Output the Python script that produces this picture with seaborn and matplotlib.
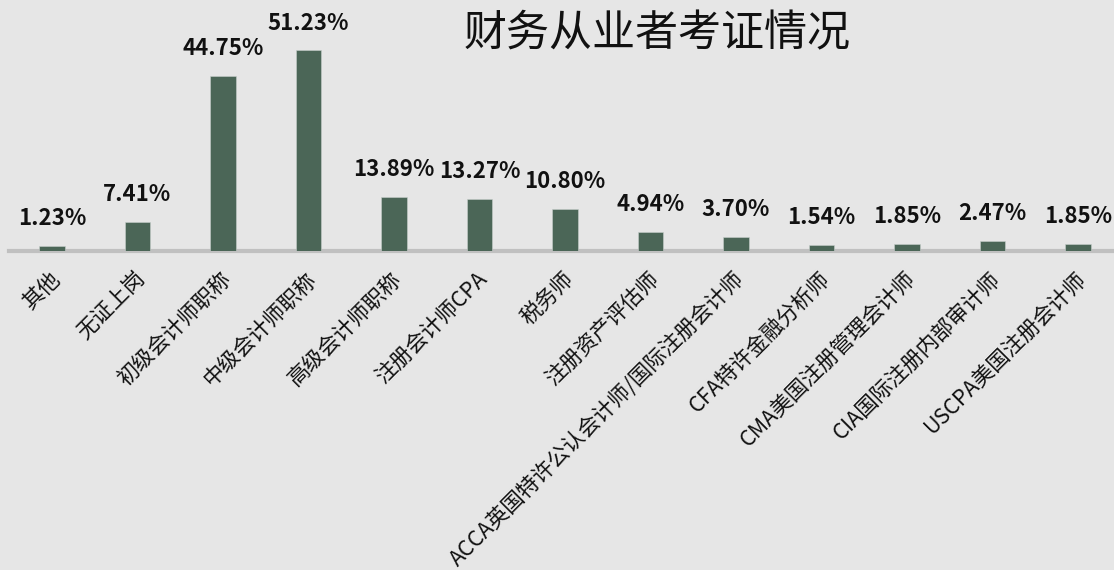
import matplotlib
matplotlib.use('Agg')
import matplotlib.pyplot as plt
import matplotlib.transforms as mtransforms
import seaborn as sns
import pandas as pd

# 财务从业者考证情况
categories = ['其他', '无证上岗', '初级会计师职称', '中级会计师职称', '高级会计师职称',
              '注册会计师CPA', '税务师', '注册资产评估师', 'ACCA英国特许公认会计师/国际注册会计师',
              'CFA特许金融分析师', 'CMA美国注册管理会计师', 'CIA国际注册内部审计师', 'USCPA美国注册会计师']
percent = [1.23, 7.41, 44.75, 51.23, 13.89, 13.27, 10.80, 4.94, 3.70, 1.54, 1.85, 2.47, 1.85]
title = '财务从业者考证情况'

bar_color = '#4b6657'
bg_color = '#e6e6e6'

sns.set_style('white')
plt.rcParams['font.family'] = ['Noto Sans CJK SC', 'DejaVu Sans']

df = pd.DataFrame({'cert': categories, 'pct': percent})

fig = plt.figure(figsize=(11.14, 5.7), dpi=100, facecolor=bg_color)
ax = fig.add_axes([9.25 / 1114, 319 / 570, 1111.5 / 1114, 251 / 570])
ax.set_facecolor('none')

sns.barplot(data=df, x='cert', y='pct', color=bar_color, saturation=1,
            width=0.3, edgecolor='#c8d0cc', linewidth=0.4, ax=ax)

ax.set_ylim(0, 64.1)
ax.set_xlim(-0.5, len(categories) - 0.5)
ax.set_xlabel('')
ax.set_ylabel('')
ax.set_yticks([])
for s in ['top', 'left', 'right']:
    ax.spines[s].set_visible(False)
ax.spines['bottom'].set_color('#c0c0c0')
ax.spines['bottom'].set_linewidth(3)
ax.spines['bottom'].set_zorder(0)

# 数值标签
for i, v in enumerate(percent):
    ax.annotate(f'{v:.2f}%', xy=(i, v), xytext=(0, 15), textcoords='offset points',
                ha='center', va='baseline', fontsize=16, fontweight='bold', color='#111111')

# 横轴标签 45度
ax.tick_params(axis='x', length=0, pad=12)
ax.set_xticks(range(len(categories)))
ax.set_xticklabels(categories, rotation=45, ha='right', va='top',
                   rotation_mode='anchor', fontsize=15.5, fontweight='light', color='#111111')
shift = mtransforms.ScaledTranslation(-3 / 100, 0, fig.dpi_scale_trans)
for lab in ax.get_xticklabels():
    lab.set_transform(lab.get_transform() + shift)

fig.text(657 / 1114, 1 - 34 / 570, title, ha='center', va='center',
         fontsize=31, color='#111111')

fig.savefig('out.png', dpi=100, facecolor=bg_color)
